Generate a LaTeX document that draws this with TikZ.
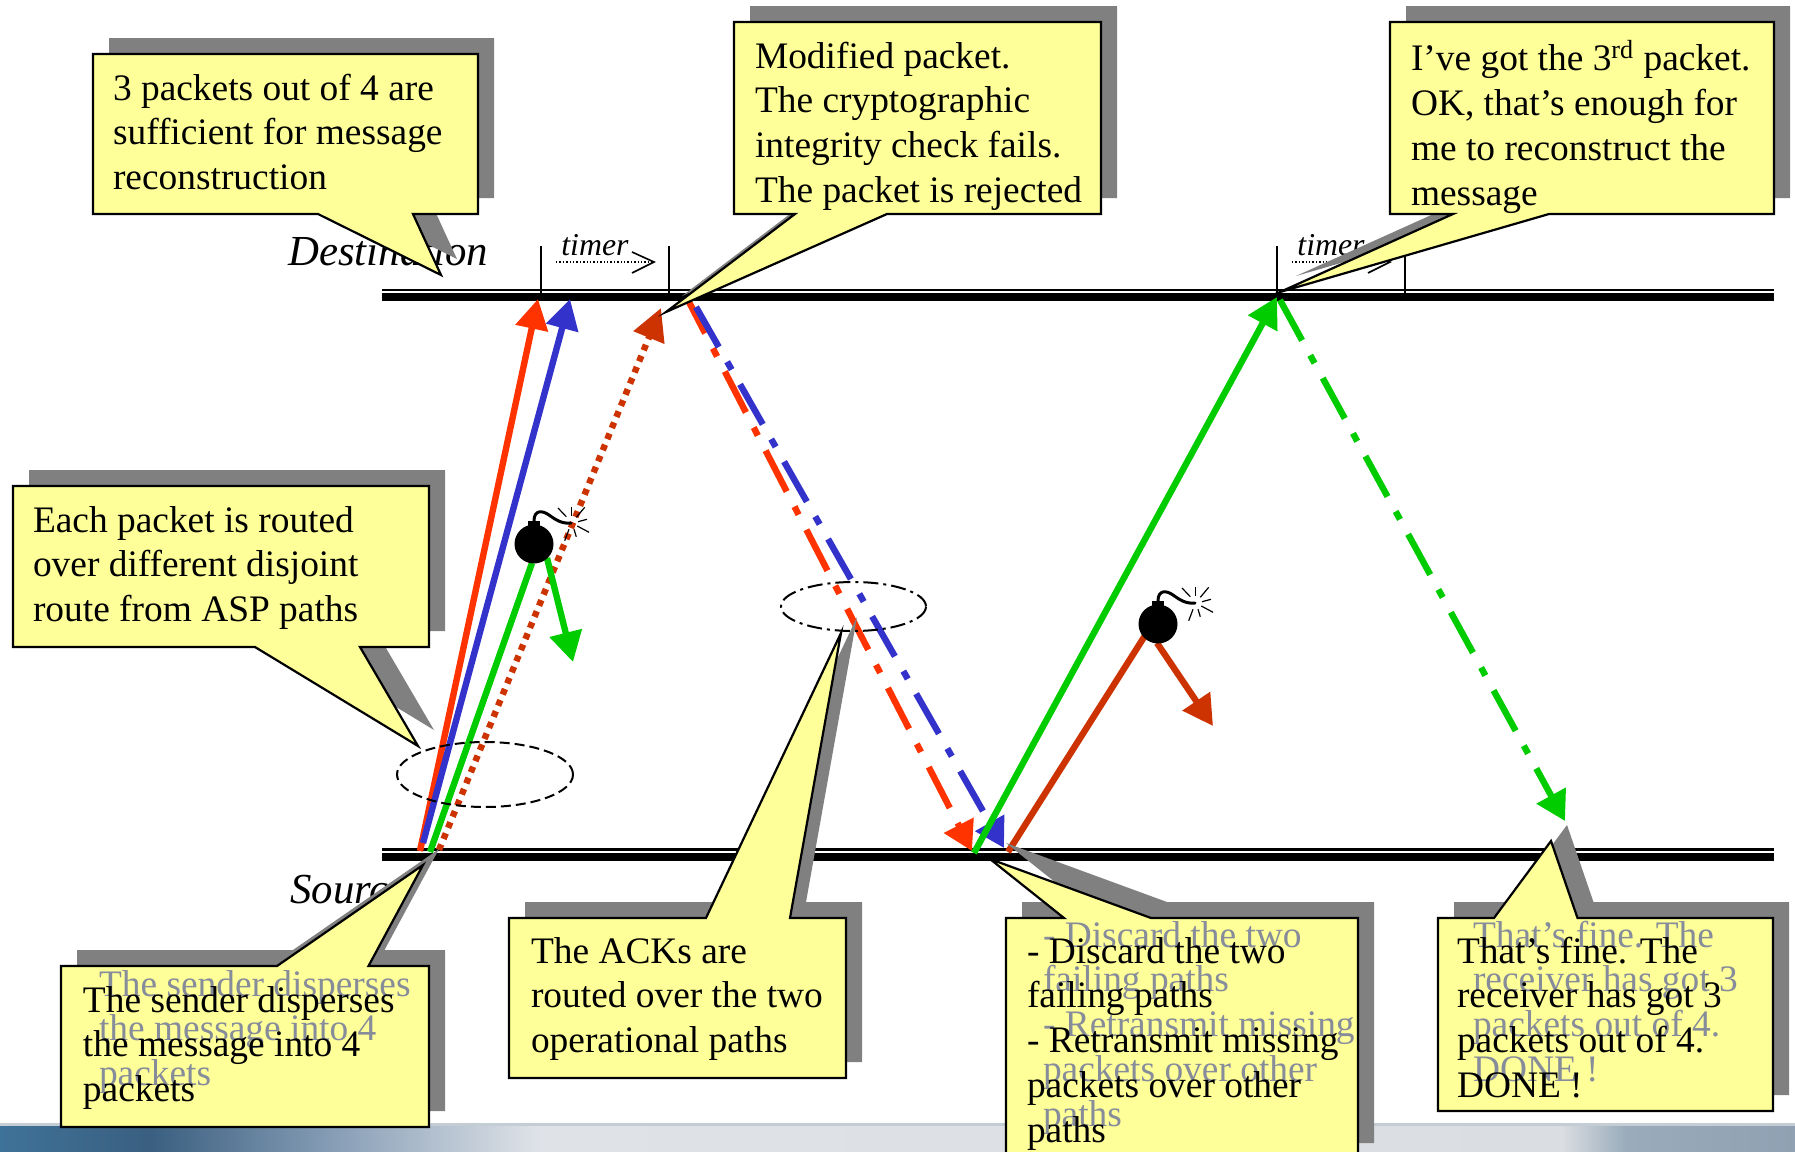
\documentclass[tikz,border=0pt]{standalone}
\usepackage{fontspec}
\setmainfont{Liberation Serif}
\usetikzlibrary{arrows.meta,shapes.geometric}
\definecolor{cred}{HTML}{FF3300}
\definecolor{cblue}{HTML}{3333CC}
\definecolor{cgreen}{HTML}{00CC00}
\definecolor{cbrown}{HTML}{CC3300}
\definecolor{cyel}{HTML}{FFFF99}
\definecolor{cshadow}{HTML}{808080}
\definecolor{ctxtshadow}{HTML}{868C9A}
\definecolor{cbandtop}{HTML}{C4CCD4}
\definecolor{bandA}{RGB}{63,114,153}
\definecolor{bandB}{RGB}{58,95,128}
\definecolor{bandC}{RGB}{138,160,184}
\definecolor{bandD}{RGB}{223,227,232}
\definecolor{bandE}{RGB}{218,221,225}
\definecolor{bandF}{RGB}{154,172,187}
\definecolor{bandG}{RGB}{143,161,178}
\pgfdeclarehorizontalshading{bandshade}{100bp}{
  color(0bp)=(bandA);
  color(25bp)=(bandA);
  color(29.2bp)=(bandB);
  color(34.5bp)=(bandC);
  color(40bp)=(bandD);
  color(68.5bp)=(bandE);
  color(70.3bp)=(bandF);
  color(75bp)=(bandG);
  color(100bp)=(bandG)}
\newcommand\leadup{\rule{0pt}{14pt}}
\newcommand\callout[1]{%
  \fill[cshadow,shift={(16,-16)}] #1;
  \draw[callbox] #1;}
\tikzset{
  x=0.5pt,y=-0.5pt,
  callbox/.style={draw=black,fill=cyel,line width=1.1pt,line join=miter,miter limit=30},
  calltext/.style={anchor=north west,inner sep=0pt,outer sep=0pt,align=left,text=black,
    font=\fontsize{18.7}{22.4}\selectfont},
  ghost/.style={calltext,text=ctxtshadow},
  lanelabel/.style={anchor=base west,inner sep=0pt,font=\fontsize{21.4}{24}\selectfont\itshape},
  timerlabel/.style={anchor=base west,inner sep=0pt,font=\fontsize{15.9}{18}\selectfont\itshape},
  timerline/.style={draw=black,line width=0.6pt},
  timerarrow/.style={draw=black,line width=0.7pt,densely dotted},
  pkt/.style={line width=3.2pt,-{Triangle[length=15pt,width=16pt]}},
  plainpkt/.style={line width=3.2pt},
  dotpkt/.style={line width=3.2pt,dash pattern=on 3pt off 3pt,-{Triangle[length=16pt,width=16pt]}},
  ack/.style={line width=3.2pt,dash pattern=on 23pt off 8.5pt on 4.5pt off 8.5pt,-{Triangle[length=14.5pt,width=16pt]}},
  dashring/.style={ellipse,draw=black,line width=1pt,inner sep=0pt},
}
\newcommand\bomb[2]{%
  \begin{scope}[shift={(#1,#2)}]
    \fill[black] (0,0) circle (19.5);
    \fill[black] (-6,-23) rectangle (6,-15);
    \draw[black,line width=1.5pt,line cap=round] (0,-23) .. controls (0,-34) and (8,-34) .. (15,-29) .. controls (22,-24) and (28,-20) .. (37,-21);
    \foreach \a/\b/\c/\d in {24/-36/32.3/-27.3,37.3/-37.3/37.3/-28,50.7/-36.7/42.3/-26.7,53/-24.7/44/-22.3,55/-11.7/43.3/-18,42.3/-7.3/40/-14.7,30.7/-3.3/35/-14.7}
      \draw[black,line width=0.6pt] (\a,\b) -- (\c,\d);
  \end{scope}}
\begin{document}
\begin{tikzpicture}
\useasboundingbox (0,0) rectangle (1795,1152);
\clip (0,0) rectangle (1795,1152);
% bottom band
\fill[white] (0,0) rectangle (1795,1152);
\shade[shading=bandshade] (0,1126) rectangle (1795,1152);
\fill[cbandtop] (0,1123) rectangle (1795,1126);
% rails
\fill[black] (382,288.5) rectangle (1774,290.7);
\fill[black] (382,292.7) rectangle (1774,300.5);
\fill[black] (382,848.3) rectangle (1774,850.5);
\fill[black] (382,853) rectangle (1774,860.7);
\node[lanelabel] (dest) at (288,265) {Destination};
\node[lanelabel] (src) at (290,903) {Source};
% timers
\coordinate (t1a) at (541,246); \coordinate (t1ab) at (541,293);
\coordinate (t1b) at (669,246); \coordinate (t1bb) at (669,293);
\coordinate (t2a) at (1277,246); \coordinate (t2ab) at (1277,293);
\coordinate (t2b) at (1405,246); \coordinate (t2bb) at (1405,293);
\draw[timerline] (t1a) -- (t1ab);
\draw[timerline] (t1b) -- (t1bb);
\draw[timerline] (t2a) -- (t2ab);
\draw[timerline] (t2b) -- (t2bb);
\node[timerlabel] (tm1) at (561,255) {timer};
\node[timerlabel] (tm2) at (1297,255) {timer};
\coordinate (ta1) at (556,262); \coordinate (ta2) at (654,262);
\coordinate (tb1) at (1292,262); \coordinate (tb2) at (1390,262);
\draw[timerarrow] (ta1) -- (ta2);
\draw[timerarrow] (tb1) -- (tb2);
\draw[black,line width=0.8pt] (632,252) -- (ta2) -- (632,273);
\draw[black,line width=0.8pt] (1368,252) -- (tb2) -- (1368,273);
% packet arrows
\coordinate (rs) at (420,851); \coordinate (rd) at (538,299);
\coordinate (bs) at (423,843); \coordinate (bd) at (570,299);
\coordinate (ds) at (439,850); \coordinate (dd) at (661,308);
\coordinate (gs) at (430,852); \coordinate (gb) at (532,563);
\coordinate (gb2) at (547,558); \coordinate (gt) at (573,662);
\coordinate (ras) at (689,302); \coordinate (rad) at (972,851);
\coordinate (bas) at (696,307); \coordinate (bad) at (1004,848);
\coordinate (g2s) at (974,853); \coordinate (g2d) at (1277,297);
\coordinate (gas) at (1280,300); \coordinate (gad) at (1565,821);
\coordinate (bs2) at (1008,852); \coordinate (bb2) at (1146,634);
\coordinate (bb3) at (1157,643); \coordinate (bt3) at (1213,726);
\draw[pkt,cred] (rs) -- (rd);
\draw[pkt,cblue] (bs) -- (bd);
\draw[dotpkt,cbrown] (ds) -- (dd);
\draw[plainpkt,cgreen] (gs) -- (gb);
\draw[pkt,cgreen] (gb2) -- (gt);
\draw[ack,cred,dash phase=5.4pt] (ras) -- (rad);
\draw[ack,cblue] (bas) -- (bad);
\draw[plainpkt,cbrown] (bs2) -- (bb2);
\draw[pkt,cbrown] (bb3) -- (bt3);
\draw[pkt,cgreen] (g2s) -- (g2d);
% bombs
\bomb{534}{544}
\bomb{1158}{624}
% rings
\node[dashring,dash pattern=on 5pt off 2.5pt,minimum width=88pt,minimum height=32.5pt] (ring1) at (485,774.5) {};
\node[dashring,dash pattern=on 7.5pt off 2.5pt on 1.5pt off 2.5pt,minimum width=72.5pt,minimum height=24.5pt] (ring2) at (853.5,606.5) {};
% callouts
\callout{(93,54) -- (478,54) -- (478,214) -- (413,214) -- (441,275) -- (318,214) -- (93,214) -- cycle}
\node[calltext] (ca) at (113,72) {\leadup 3 packets out of 4 are\\sufficient for message\\reconstruction};
\callout{(734,22) -- (1101,22) -- (1101,214) -- (887,214) -- (666,312) -- (795,214) -- (734,214) -- cycle}
\node[calltext] (cb) at (755,40) {\leadup Modified packet.\\The cryptographic\\integrity check fails.\\The packet is rejected};
\callout{(1390,22) -- (1774,22) -- (1774,214) -- (1549,214) -- (1280,292) -- (1453,214) -- (1390,214) -- cycle}
\node[calltext] (cc) at (1411,40) {\leadup I’ve got the 3\textsuperscript{rd} packet.\\OK, that’s enough for\\me to reconstruct the\\message};
\callout{(13,486) -- (429,486) -- (429,647) -- (360,647) -- (418,746) -- (255,647) -- (13,647) -- cycle}
\node[calltext] (cd) at (33,504) {\leadup Each packet is routed\\over different disjoint\\route from ASP paths};
\callout{(61,966) -- (277,966) -- (423,865) -- (368.5,966) -- (429,966) -- (429,1127) -- (61,1127) -- cycle}
\node[ghost] (ceg) at (99,968) {\leadup The sender disperses\\the message into 4\\packets};
\node[calltext] (ce) at (83,984) {\leadup The sender disperses\\the message into 4\\packets};
\callout{(509,918) -- (706,918) -- (841,633) -- (790,918) -- (846,918) -- (846,1078) -- (509,1078) -- cycle}
\node[calltext] (cf) at (531,935) {\leadup The ACKs are\\routed over the two\\operational paths};
\callout{(1006,918) -- (1064,918) -- (990,859) -- (1151,918) -- (1358,918) -- (1358,1159) -- (1006,1159) -- cycle}
\node[ghost] (cgg) at (1043,919) {\leadup - Discard the two\\failing paths\\- Retransmit missing\\packets over other\\paths};
\node[calltext] (cg) at (1027,935) {\leadup - Discard the two\\failing paths\\- Retransmit missing\\packets over other\\paths};
\callout{(1438,918) -- (1494,918) -- (1551,841) -- (1577.5,918) -- (1773,918) -- (1773,1111) -- (1438,1111) -- cycle}
\node[ghost] (chg) at (1473,919) {\leadup That’s fine. The\\receiver has got 3\\packets out of 4.\\DONE !};
\node[calltext] (ch) at (1457,935) {\leadup That’s fine. The\\receiver has got 3\\packets out of 4.\\DONE !};
% green acknowledgement arrow lies over the shadow
\draw[ack,cgreen] (gas) -- (gad);
\end{tikzpicture}
\end{document}
